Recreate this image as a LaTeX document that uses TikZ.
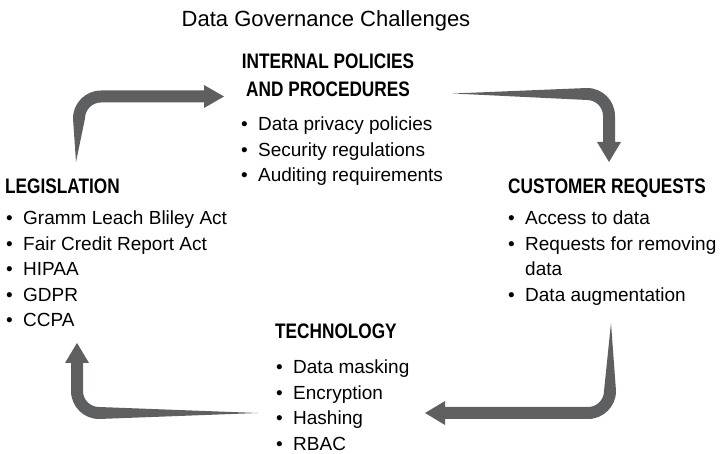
\documentclass[tikz,border=0pt]{standalone}
\usepackage{fontspec}
\setmainfont{Liberation Sans}
\newfontfamily\headfont[FakeStretch=0.82]{Liberation Sans}
\definecolor{arrowgray}{HTML}{5E5F61}
\newcommand\bitem[1]{\makebox[17pt][l]{\textbullet}#1}
\tikzset{
  heading/.style={anchor=base west, inner sep=0pt, font=\headfont\bfseries\fontsize{21}{28}\selectfont},
  itemlist/.style={anchor=base west, inner sep=0pt, font=\fontsize{19}{25.5}\selectfont},
  cyclearrow/.style={fill=arrowgray}
}

\begin{document}
\begin{tikzpicture}[x=1pt, y=1pt]
  \useasboundingbox (0,0) rectangle (722,454);
  \node[anchor=base, inner sep=0pt, font=\fontsize{22}{26}\selectfont] (title) at (326,427) {Data Governance Challenges};

  \node[heading, anchor=base] (policies) at (328,385) {\begin{tabular}[t]{@{}c@{}}INTERNAL POLICIES\\AND PROCEDURES\end{tabular}};
  \node[itemlist] (policylist) at (241,323) {\begin{tabular}[t]{@{}l@{}}
    \bitem{Data privacy policies}\\
    \bitem{Security regulations}\\
    \bitem{Auditing requirements}
  \end{tabular}};

  \node[heading] (legislation) at (5,260) {LEGISLATION};
  \node[itemlist] (lawlist) at (6,229) {\begin{tabular}[t]{@{}l@{}}
    \bitem{Gramm Leach Bliley Act}\\
    \bitem{Fair Credit Report Act}\\
    \bitem{HIPAA}\\
    \bitem{GDPR}\\
    \bitem{CCPA}
  \end{tabular}};

  \node[heading] (customer) at (508,260) {CUSTOMER REQUESTS};
  \node[itemlist] (customerlist) at (508,229) {\begin{tabular}[t]{@{}l@{}}
    \bitem{Access to data}\\
    \bitem{Requests for removing}\\
    \hspace*{17pt}data\\
    \bitem{Data augmentation}
  \end{tabular}};

  \node[heading] (technology) at (275,115) {TECHNOLOGY};
  \node[itemlist] (techlist) at (276,80) {\begin{tabular}[t]{@{}l@{}}
    \bitem{Data masking}\\
    \bitem{Encryption}\\
    \bitem{Hashing}\\
    \bitem{RBAC}
  \end{tabular}};

  \fill[cyclearrow] (76,292) -- (73,335.5) arc[start angle=180, end angle=90, radius=28]
    -- (204,363.5) -- (204,369) -- (224,357.5) -- (204,346) -- (204,351.5) -- (101,351.5)
    arc[start angle=90, end angle=180, radius=16] -- cycle;
  \fill[cyclearrow] (453,360.5) -- (587,366) arc[start angle=90, end angle=0, radius=28]
    -- (615,312) -- (621,312) -- (609,292) -- (597,312) -- (603,312) -- (603,338)
    arc[start angle=0, end angle=90, radius=16] -- cycle;
  \fill[cyclearrow] (611,131) -- (616,63) arc[start angle=0, end angle=-90, radius=28]
    -- (445,35) -- (445,29) -- (425,41) -- (445,53) -- (445,47) -- (588,47)
    arc[start angle=-90, end angle=0, radius=16] -- cycle;
  \fill[cyclearrow] (258,41) -- (99,35) arc[start angle=270, end angle=180, radius=28]
    -- (71,91) -- (65,91) -- (77,111) -- (89,91) -- (83,91) -- (83,63)
    arc[start angle=180, end angle=270, radius=16] -- cycle;
\end{tikzpicture}
\end{document}
